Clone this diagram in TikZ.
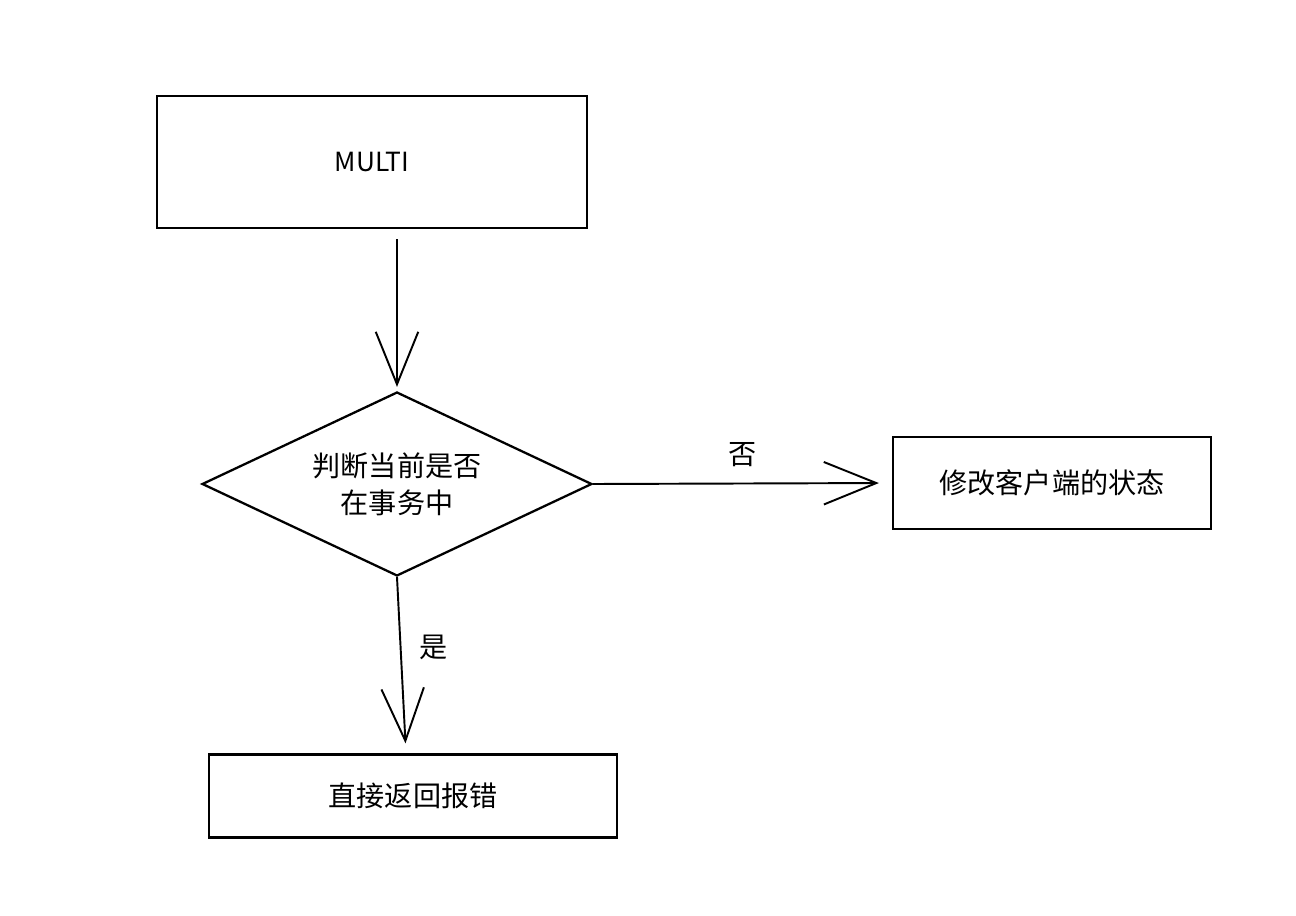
\documentclass[tikz,border=0pt]{standalone}
\usepackage{fontspec}
\setmainfont{Noto Sans CJK SC}
\usetikzlibrary{arrows.meta,shapes.geometric,positioning}

\begin{document}
\begin{tikzpicture}[x=0.02cm, y=-0.02cm, ->, >={Straight Barb[length=1.05cm, width=0.85cm]}, line width=1.1pt,
	every node/.style={font=\fontsize{16}{21}\selectfont},
	box/.style={draw, rectangle, line width=1.3pt, inner sep=0pt},
	decision/.style={draw, diamond, aspect=2.12, line width=1.3pt, inner sep=0pt, align=center}]
		\useasboundingbox (0,0) rectangle (1296,916);
		% Define nodes
		\node[box, minimum width=8.6cm, minimum height=2.64cm] (MULTI) at (372,162) {\fontsize{15}{17}\selectfont MULTI};
		\node[decision, minimum width=7.8cm, minimum height=3.68cm] (In_Transaction) at (397,484) {判断当前是否\\在事务中};
		\node[box, minimum width=6.36cm, minimum height=1.84cm] (Change_State) at (1052,483) {修改客户端的状态};
		\node[box, minimum width=8.16cm, minimum height=1.66cm] (Return_Error) at (413,796) {直接返回报错};
		
		% Define transitions
		\draw[shorten <=0.2cm, shorten >=0.08cm] (MULTI.south -| In_Transaction.north) -- (In_Transaction.north);
		\draw[shorten >=0.26cm] (In_Transaction.east) -- node[above=0.2cm, pos=0.5] {否} (Change_State.west);
		\draw[shorten >=0.2cm] (In_Transaction.south) -- node[right=0.25cm, pos=0.4] {是} ([xshift=-0.14cm]Return_Error.north);
	\end{tikzpicture}
\end{document}
